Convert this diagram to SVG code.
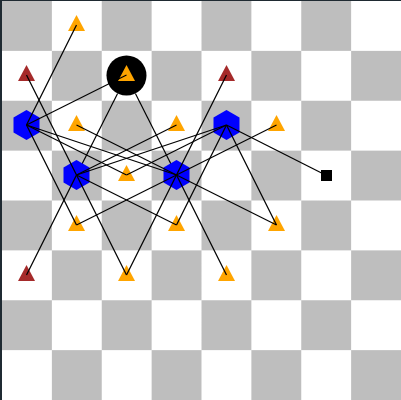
<svg xmlns="http://www.w3.org/2000/svg" width="401" height="400" viewBox="0 0 401 400">
<defs>
<style>
.tri-o{fill:#ffa500}
.tri-b{fill:#a52a2a}
.hex{fill:#0000ff}
.edges line{stroke:#000;stroke-width:1.2}
</style>
<pattern id="cb" x="2" y="1" width="99.75" height="99.75" patternUnits="userSpaceOnUse">
<rect width="99.75" height="99.75" fill="#ffffff"/>
<rect width="49.875" height="49.875" fill="#bebebe"/>
<rect x="49.875" y="49.875" width="49.875" height="49.875" fill="#bebebe"/>
</pattern>
<path id="tri" d="M0,-10 L8.5,6 L-8.5,6 Z"/>
<path id="hexs" d="M0,-15 L13,-7.5 L13,7.5 L0,15 L-13,7.5 L-13,-7.5 Z"/>
</defs>
<rect width="401" height="400" fill="#1f2a32"/>
<rect x="2" y="1" width="399" height="399" fill="url(#cb)"/>
<g id="connectors-under" class="edges">
<line x1="76.5" y1="175" x2="117.6" y2="93.4"/>
<line x1="176.5" y1="175" x2="135.4" y2="93.4"/>
</g>
<g id="highlight"><circle cx="126.5" cy="75.5" r="20" fill="#000"/></g>
<g id="nodes">
<g id="t1"><use href="#tri" class="tri-o" x="76.5" y="25"/></g>
<g id="t2"><use href="#tri" class="tri-o" x="126.5" y="75"/></g>
<g id="b1"><use href="#tri" class="tri-b" x="26.5" y="75"/></g>
<g id="b2"><use href="#tri" class="tri-b" x="226.5" y="75"/></g>
<g id="h1"><use href="#hexs" class="hex" x="26.5" y="125"/></g>
<g id="t3"><use href="#tri" class="tri-o" x="76.5" y="125"/></g>
<g id="t4"><use href="#tri" class="tri-o" x="176.5" y="125"/></g>
<g id="h4"><use href="#hexs" class="hex" x="226.5" y="125"/></g>
<g id="t5"><use href="#tri" class="tri-o" x="276.5" y="125"/></g>
<g id="h2"><use href="#hexs" class="hex" x="76.5" y="175"/></g>
<g id="t6"><use href="#tri" class="tri-o" x="126.5" y="175"/></g>
<g id="h3"><use href="#hexs" class="hex" x="176.5" y="175"/></g>
<g id="sq"><rect x="321" y="170" width="11" height="11" fill="#000"/></g>
<g id="t7"><use href="#tri" class="tri-o" x="76.5" y="225"/></g>
<g id="t8"><use href="#tri" class="tri-o" x="176.5" y="225"/></g>
<g id="t9"><use href="#tri" class="tri-o" x="276.5" y="225"/></g>
<g id="b3"><use href="#tri" class="tri-b" x="26.5" y="275"/></g>
<g id="t10"><use href="#tri" class="tri-o" x="126.5" y="275"/></g>
<g id="t11"><use href="#tri" class="tri-o" x="226.5" y="275"/></g>
</g>
<g id="connectors" class="edges">
<line x1="76.5" y1="25" x2="26.5" y2="125"/>
<line x1="26.5" y1="75" x2="76.5" y2="175"/>
<line x1="76.5" y1="175" x2="126.5" y2="275"/>
<line x1="26.5" y1="125" x2="126.5" y2="75"/>
<line x1="26.5" y1="125" x2="126.5" y2="175"/>
<line x1="26.5" y1="125" x2="76.5" y2="225"/>
<line x1="26.5" y1="125" x2="176.5" y2="175"/>
<line x1="26.5" y1="275" x2="76.5" y2="175"/>
<line x1="76.5" y1="175" x2="176.5" y2="225"/>
<line x1="76.5" y1="175" x2="176.5" y2="125"/>
<line x1="76.5" y1="125" x2="176.5" y2="175"/>
<line x1="176.5" y1="175" x2="276.5" y2="125"/>
<line x1="176.5" y1="175" x2="76.5" y2="225"/>
<line x1="226.5" y1="75" x2="176.5" y2="175"/>
<line x1="176.5" y1="175" x2="126.5" y2="275"/>
<line x1="176.5" y1="175" x2="226.5" y2="275"/>
<line x1="176.5" y1="175" x2="276.5" y2="225"/>
<line x1="226.5" y1="125" x2="126.5" y2="175"/>
<line x1="226.5" y1="125" x2="176.5" y2="225"/>
<line x1="226.5" y1="125" x2="276.5" y2="225"/>
<line x1="226.5" y1="125" x2="326.5" y2="175.5"/>
<line x1="226.5" y1="125" x2="76.5" y2="175"/>
</g>
</svg>
